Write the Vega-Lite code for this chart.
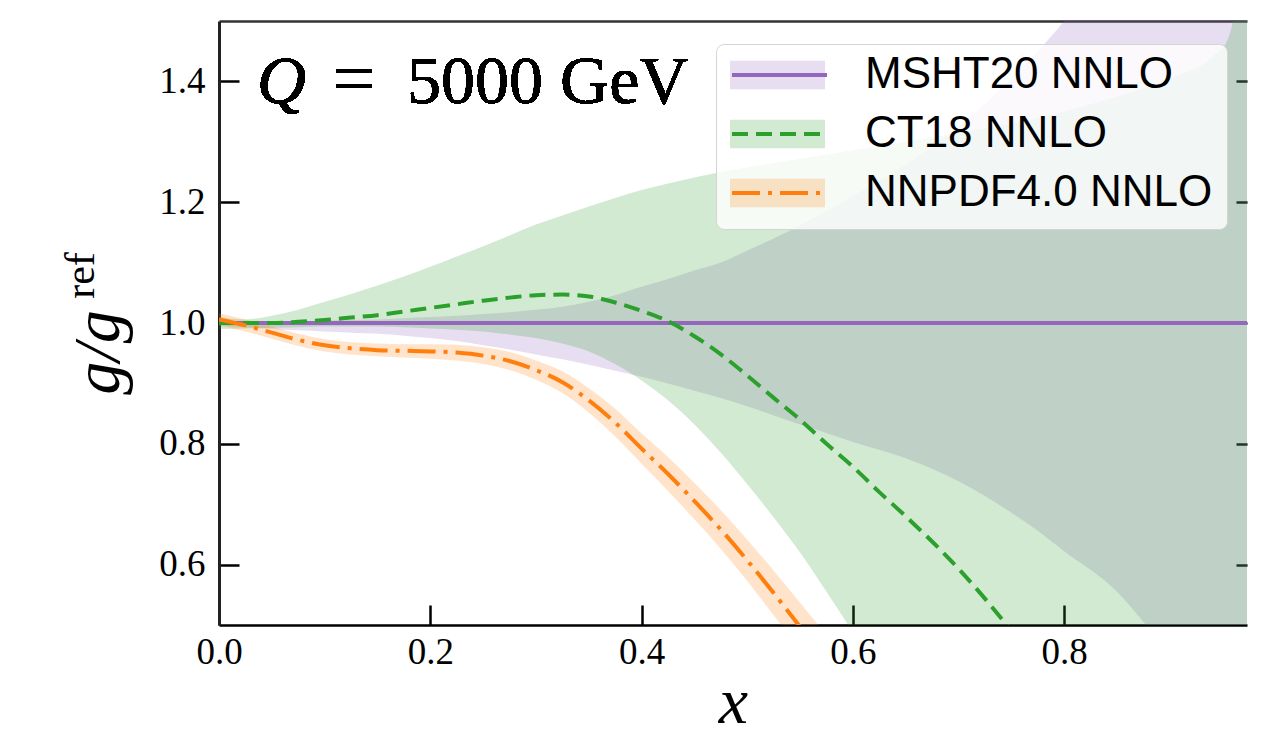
{
  "$schema": "https://vega.github.io/schema/vega-lite/v6.json",
  "width": 1028,
  "height": 604,
  "autosize": "none",
  "padding": {"left": 219, "top": 21, "right": 14, "bottom": 111},
  "background": "white",
  "config": {
    "view": {"stroke": null},
    "axis": {"grid": false, "labelFlush": false, "labelOverlap": false}
  },
  "data": {
    "values": [
      {"pdf": "MSHT20 NNLO", "x": 0.0, "g": 1.0, "lo": 0.996, "hi": 1.004},
      {"pdf": "MSHT20 NNLO", "x": 0.025, "g": 1.0, "lo": 0.993, "hi": 1.003},
      {"pdf": "MSHT20 NNLO", "x": 0.05, "g": 1.0, "lo": 0.99, "hi": 1.003},
      {"pdf": "MSHT20 NNLO", "x": 0.075, "g": 1.0, "lo": 0.988, "hi": 1.003},
      {"pdf": "MSHT20 NNLO", "x": 0.1, "g": 1.0, "lo": 0.986, "hi": 1.004},
      {"pdf": "MSHT20 NNLO", "x": 0.125, "g": 1.0, "lo": 0.984, "hi": 1.005},
      {"pdf": "MSHT20 NNLO", "x": 0.15, "g": 1.0, "lo": 0.982, "hi": 1.006},
      {"pdf": "MSHT20 NNLO", "x": 0.175, "g": 1.0, "lo": 0.979, "hi": 1.008},
      {"pdf": "MSHT20 NNLO", "x": 0.2, "g": 1.0, "lo": 0.975, "hi": 1.01},
      {"pdf": "MSHT20 NNLO", "x": 0.225, "g": 1.0, "lo": 0.97, "hi": 1.012},
      {"pdf": "MSHT20 NNLO", "x": 0.25, "g": 1.0, "lo": 0.963, "hi": 1.015},
      {"pdf": "MSHT20 NNLO", "x": 0.275, "g": 1.0, "lo": 0.956, "hi": 1.018},
      {"pdf": "MSHT20 NNLO", "x": 0.3, "g": 1.0, "lo": 0.948, "hi": 1.022},
      {"pdf": "MSHT20 NNLO", "x": 0.325, "g": 1.0, "lo": 0.94, "hi": 1.027},
      {"pdf": "MSHT20 NNLO", "x": 0.35, "g": 1.0, "lo": 0.931, "hi": 1.035},
      {"pdf": "MSHT20 NNLO", "x": 0.375, "g": 1.0, "lo": 0.921, "hi": 1.046},
      {"pdf": "MSHT20 NNLO", "x": 0.4, "g": 1.0, "lo": 0.911, "hi": 1.06},
      {"pdf": "MSHT20 NNLO", "x": 0.425, "g": 1.0, "lo": 0.9, "hi": 1.073},
      {"pdf": "MSHT20 NNLO", "x": 0.45, "g": 1.0, "lo": 0.888, "hi": 1.087},
      {"pdf": "MSHT20 NNLO", "x": 0.475, "g": 1.0, "lo": 0.876, "hi": 1.1},
      {"pdf": "MSHT20 NNLO", "x": 0.5, "g": 1.0, "lo": 0.862, "hi": 1.12},
      {"pdf": "MSHT20 NNLO", "x": 0.525, "g": 1.0, "lo": 0.847, "hi": 1.14},
      {"pdf": "MSHT20 NNLO", "x": 0.55, "g": 1.0, "lo": 0.832, "hi": 1.162},
      {"pdf": "MSHT20 NNLO", "x": 0.575, "g": 1.0, "lo": 0.818, "hi": 1.185},
      {"pdf": "MSHT20 NNLO", "x": 0.6, "g": 1.0, "lo": 0.803, "hi": 1.21},
      {"pdf": "MSHT20 NNLO", "x": 0.625, "g": 1.0, "lo": 0.79, "hi": 1.235},
      {"pdf": "MSHT20 NNLO", "x": 0.65, "g": 1.0, "lo": 0.776, "hi": 1.262},
      {"pdf": "MSHT20 NNLO", "x": 0.7, "g": 1.0, "lo": 0.738, "hi": 1.325},
      {"pdf": "MSHT20 NNLO", "x": 0.75, "g": 1.0, "lo": 0.686, "hi": 1.405},
      {"pdf": "MSHT20 NNLO", "x": 0.775, "g": 1.0, "lo": 0.656, "hi": 1.45},
      {"pdf": "MSHT20 NNLO", "x": 0.8, "g": 1.0, "lo": 0.622, "hi": 1.5},
      {"pdf": "MSHT20 NNLO", "x": 0.85, "g": 1.0, "lo": 0.555, "hi": 1.62},
      {"pdf": "MSHT20 NNLO", "x": 0.875, "g": 1.0, "lo": 0.505, "hi": 1.68},
      {"pdf": "MSHT20 NNLO", "x": 0.9, "g": 1.0, "lo": 0.45, "hi": 1.75},
      {"pdf": "MSHT20 NNLO", "x": 0.95, "g": 1.0, "lo": 0.34, "hi": 1.9},
      {"pdf": "MSHT20 NNLO", "x": 0.973, "g": 1.0, "lo": 0.29, "hi": 1.97},

      {"pdf": "CT18 NNLO", "x": 0.0, "g": 1.0, "lo": 0.99, "hi": 1.01},
      {"pdf": "CT18 NNLO", "x": 0.025, "g": 1.0, "lo": 0.991, "hi": 1.006},
      {"pdf": "CT18 NNLO", "x": 0.05, "g": 1.0, "lo": 0.992, "hi": 1.012},
      {"pdf": "CT18 NNLO", "x": 0.075, "g": 1.002, "lo": 0.993, "hi": 1.022},
      {"pdf": "CT18 NNLO", "x": 0.1, "g": 1.005, "lo": 0.994, "hi": 1.035},
      {"pdf": "CT18 NNLO", "x": 0.125, "g": 1.009, "lo": 0.994, "hi": 1.048},
      {"pdf": "CT18 NNLO", "x": 0.15, "g": 1.013, "lo": 0.994, "hi": 1.062},
      {"pdf": "CT18 NNLO", "x": 0.175, "g": 1.019, "lo": 0.993, "hi": 1.077},
      {"pdf": "CT18 NNLO", "x": 0.2, "g": 1.025, "lo": 0.991, "hi": 1.093},
      {"pdf": "CT18 NNLO", "x": 0.225, "g": 1.031, "lo": 0.989, "hi": 1.11},
      {"pdf": "CT18 NNLO", "x": 0.25, "g": 1.037, "lo": 0.986, "hi": 1.127},
      {"pdf": "CT18 NNLO", "x": 0.275, "g": 1.042, "lo": 0.981, "hi": 1.145},
      {"pdf": "CT18 NNLO", "x": 0.3, "g": 1.046, "lo": 0.975, "hi": 1.163},
      {"pdf": "CT18 NNLO", "x": 0.325, "g": 1.047, "lo": 0.966, "hi": 1.178},
      {"pdf": "CT18 NNLO", "x": 0.35, "g": 1.044, "lo": 0.953, "hi": 1.193},
      {"pdf": "CT18 NNLO", "x": 0.375, "g": 1.034, "lo": 0.932, "hi": 1.207},
      {"pdf": "CT18 NNLO", "x": 0.4, "g": 1.02, "lo": 0.905, "hi": 1.22},
      {"pdf": "CT18 NNLO", "x": 0.425, "g": 1.003, "lo": 0.872, "hi": 1.231},
      {"pdf": "CT18 NNLO", "x": 0.45, "g": 0.978, "lo": 0.832, "hi": 1.241},
      {"pdf": "CT18 NNLO", "x": 0.475, "g": 0.948, "lo": 0.785, "hi": 1.25},
      {"pdf": "CT18 NNLO", "x": 0.5, "g": 0.913, "lo": 0.733, "hi": 1.258},
      {"pdf": "CT18 NNLO", "x": 0.525, "g": 0.876, "lo": 0.678, "hi": 1.265},
      {"pdf": "CT18 NNLO", "x": 0.55, "g": 0.84, "lo": 0.62, "hi": 1.272},
      {"pdf": "CT18 NNLO", "x": 0.575, "g": 0.8, "lo": 0.555, "hi": 1.279},
      {"pdf": "CT18 NNLO", "x": 0.6, "g": 0.762, "lo": 0.488, "hi": 1.286},
      {"pdf": "CT18 NNLO", "x": 0.625, "g": 0.72, "lo": 0.42, "hi": 1.293},
      {"pdf": "CT18 NNLO", "x": 0.65, "g": 0.68, "lo": 0.35, "hi": 1.3},
      {"pdf": "CT18 NNLO", "x": 0.7, "g": 0.593, "lo": 0.2, "hi": 1.315},
      {"pdf": "CT18 NNLO", "x": 0.75, "g": 0.49, "lo": 0.05, "hi": 1.33},
      {"pdf": "CT18 NNLO", "x": 0.8, "g": 0.37, "lo": -0.1, "hi": 1.35},
      {"pdf": "CT18 NNLO", "x": 0.85, "g": 0.24, "lo": -0.25, "hi": 1.375},
      {"pdf": "CT18 NNLO", "x": 0.9, "g": 0.1, "lo": -0.4, "hi": 1.405},
      {"pdf": "CT18 NNLO", "x": 0.94, "g": 0.0, "lo": -0.5, "hi": 1.44},
      {"pdf": "CT18 NNLO", "x": 0.955, "g": -0.05, "lo": -0.55, "hi": 1.47},
      {"pdf": "CT18 NNLO", "x": 0.963, "g": -0.08, "lo": -0.58, "hi": 1.53},
      {"pdf": "CT18 NNLO", "x": 0.973, "g": -0.12, "lo": -0.62, "hi": 1.65},

      {"pdf": "NNPDF4.0 NNLO", "x": 0.0, "g": 1.006, "lo": 0.996, "hi": 1.016},
      {"pdf": "NNPDF4.0 NNLO", "x": 0.025, "g": 0.996, "lo": 0.986, "hi": 1.006},
      {"pdf": "NNPDF4.0 NNLO", "x": 0.05, "g": 0.984, "lo": 0.974, "hi": 0.994},
      {"pdf": "NNPDF4.0 NNLO", "x": 0.075, "g": 0.972, "lo": 0.962, "hi": 0.982},
      {"pdf": "NNPDF4.0 NNLO", "x": 0.1, "g": 0.963, "lo": 0.953, "hi": 0.973},
      {"pdf": "NNPDF4.0 NNLO", "x": 0.125, "g": 0.958, "lo": 0.948, "hi": 0.968},
      {"pdf": "NNPDF4.0 NNLO", "x": 0.15, "g": 0.955, "lo": 0.945, "hi": 0.966},
      {"pdf": "NNPDF4.0 NNLO", "x": 0.175, "g": 0.954, "lo": 0.943, "hi": 0.965},
      {"pdf": "NNPDF4.0 NNLO", "x": 0.2, "g": 0.953, "lo": 0.941, "hi": 0.965},
      {"pdf": "NNPDF4.0 NNLO", "x": 0.225, "g": 0.951, "lo": 0.938, "hi": 0.964},
      {"pdf": "NNPDF4.0 NNLO", "x": 0.25, "g": 0.946, "lo": 0.932, "hi": 0.96},
      {"pdf": "NNPDF4.0 NNLO", "x": 0.275, "g": 0.937, "lo": 0.922, "hi": 0.952},
      {"pdf": "NNPDF4.0 NNLO", "x": 0.3, "g": 0.922, "lo": 0.906, "hi": 0.938},
      {"pdf": "NNPDF4.0 NNLO", "x": 0.325, "g": 0.902, "lo": 0.884, "hi": 0.92},
      {"pdf": "NNPDF4.0 NNLO", "x": 0.35, "g": 0.872, "lo": 0.852, "hi": 0.892},
      {"pdf": "NNPDF4.0 NNLO", "x": 0.375, "g": 0.835, "lo": 0.812, "hi": 0.858},
      {"pdf": "NNPDF4.0 NNLO", "x": 0.4, "g": 0.792, "lo": 0.767, "hi": 0.817},
      {"pdf": "NNPDF4.0 NNLO", "x": 0.425, "g": 0.75, "lo": 0.722, "hi": 0.778},
      {"pdf": "NNPDF4.0 NNLO", "x": 0.45, "g": 0.705, "lo": 0.675, "hi": 0.735},
      {"pdf": "NNPDF4.0 NNLO", "x": 0.475, "g": 0.658, "lo": 0.626, "hi": 0.69},
      {"pdf": "NNPDF4.0 NNLO", "x": 0.5, "g": 0.607, "lo": 0.573, "hi": 0.641},
      {"pdf": "NNPDF4.0 NNLO", "x": 0.525, "g": 0.553, "lo": 0.516, "hi": 0.59},
      {"pdf": "NNPDF4.0 NNLO", "x": 0.55, "g": 0.497, "lo": 0.457, "hi": 0.537},
      {"pdf": "NNPDF4.0 NNLO", "x": 0.575, "g": 0.44, "lo": 0.397, "hi": 0.483},
      {"pdf": "NNPDF4.0 NNLO", "x": 0.6, "g": 0.38, "lo": 0.335, "hi": 0.425}
    ]
  },
  "layer": [
    {
      "mark": {"type": "area", "clip": true, "interpolate": "monotone"},
      "encoding": {
        "x": {
          "field": "x", "type": "quantitative",
          "scale": {"domain": [0, 0.973], "nice": false, "zero": false},
          "axis": {
            "orient": "bottom", "values": [0, 0.2, 0.4, 0.6, 0.8], "format": ".1f",
            "title": "x", "titleFont": "Liberation Serif", "titleFontStyle": "italic",
            "titleFontWeight": "normal", "titleFontSize": 66, "titleColor": "black",
            "titleX": 514, "titleY": 97, "titleBaseline": "alphabetic", "titleAlign": "center",
            "labelFont": "Liberation Serif", "labelFontSize": 37, "labelColor": "black",
            "labelPadding": 29, "tickSize": -20, "tickWidth": 2.5, "tickColor": "black",
            "domainColor": "black", "domainWidth": 2.5
          }
        },
        "y": {
          "field": "lo", "type": "quantitative",
          "scale": {"domain": [0.5, 1.5], "nice": false, "zero": false},
          "axis": {
            "orient": "left", "values": [0.6, 0.8, 1.0, 1.2, 1.4], "format": ".1f",
            "title": "g/g", "titleFont": "Liberation Serif", "titleFontStyle": "italic",
            "titleFontWeight": "normal", "titleFontSize": 66, "titleColor": "black",
            "titleAngle": 270, "titleX": -101, "titleY": 331, "titleBaseline": "alphabetic",
            "titleAlign": "center",
            "labelFont": "Liberation Serif", "labelFontSize": 37, "labelColor": "black",
            "labelPadding": 34, "tickSize": -20, "tickWidth": 2.5, "tickColor": "black",
            "domainColor": "#222222", "domainWidth": 3
          }
        },
        "y2": {"field": "hi"},
        "fill": {
          "field": "pdf", "type": "nominal",
          "scale": {
            "domain": ["MSHT20 NNLO", "CT18 NNLO", "NNPDF4.0 NNLO"],
            "range": ["#9467bd", "#2ca02c", "#ff7f0e"]
          },
          "legend": {
            "orient": "none", "legendX": 497, "legendY": 23, "title": null,
            "symbolType": "M-1,-0.3H1V0.3H-1Z", "symbolSize": 9025, "symbolStrokeWidth": 0,
            "labelFont": "Liberation Sans", "labelFontSize": 44, "labelColor": "black",
            "labelLimit": 800, "labelOffset": 40, "clipHeight": 34, "rowPadding": 15, "padding": 14,
            "fillColor": "rgba(255,255,255,0.8)", "strokeColor": "#d4d4d4", "cornerRadius": 8,
            "encode": {
              "symbols": {
                "update": {
                  "opacity": {"value": 1},
                  "fillOpacity": {"scale": "fillOpacity", "field": "value"}
                }
              }
            }
          }
        },
        "fillOpacity": {
          "field": "pdf", "type": "nominal",
          "scale": {
            "domain": ["MSHT20 NNLO", "CT18 NNLO", "NNPDF4.0 NNLO"],
            "range": [0.22, 0.22, 0.3]
          },
          "legend": null
        }
      }
    },
    {
      "mark": {"type": "line", "clip": true, "interpolate": "monotone", "strokeWidth": 4},
      "encoding": {
        "x": {
          "field": "x", "type": "quantitative",
          "scale": {"domain": [0, 0.973], "nice": false, "zero": false},
          "axis": {
            "orient": "top", "domain": true, "domainColor": "#333333", "domainWidth": 2.5,
            "ticks": false, "labels": false,
            "title": "ref", "titleFont": "Liberation Serif", "titleFontStyle": "normal",
            "titleFontWeight": "normal", "titleFontSize": 42, "titleColor": "black",
            "titleAngle": 270, "titleX": -126, "titleY": 254, "titleBaseline": "alphabetic",
            "titleAlign": "center"
          }
        },
        "y": {
          "field": "g", "type": "quantitative",
          "axis": {
            "orient": "right", "domain": false, "labels": false, "title": null,
            "values": [0.6, 0.8, 1.0, 1.2, 1.4],
            "tickSize": -11, "tickWidth": 2.5, "tickColor": "black"
          }
        },
        "stroke": {
          "field": "pdf", "type": "nominal",
          "scale": {"range": ["#2ca02c", "#9467bd", "#ff7f0e"]},
          "legend": {
            "orient": "none", "legendX": 497, "legendY": 23, "title": null,
            "values": ["MSHT20 NNLO", "CT18 NNLO", "NNPDF4.0 NNLO"],
            "symbolType": "stroke", "symbolSize": 9025, "symbolStrokeWidth": 4,
            "labelExpr": "''", "labelFontSize": 44, "labelOffset": 40,
            "clipHeight": 34, "rowPadding": 15, "padding": 14,
            "encode": {"symbols": {"update": {"fill": {"value": "transparent"}, "opacity": {"value": 1}}}}
          }
        },
        "strokeDash": {
          "field": "pdf", "type": "nominal",
          "scale": {"range": [[16, 8], [1, 0], [28, 8, 4, 8]]}
        }
      }
    },
    {
      "mark": {"type": "text", "text": "Q", "font": "Liberation Serif", "fontStyle": "italic",
               "fontSize": 68, "align": "left", "baseline": "alphabetic", "color": "black"},
      "encoding": {
        "x": {"datum": 0.036, "type": "quantitative", "axis": null},
        "y": {"datum": 1.364, "type": "quantitative", "axis": null}
      }
    },
    {
      "mark": {"type": "text", "text": "=", "font": "Liberation Serif",
               "fontSize": 74, "align": "left", "baseline": "alphabetic", "color": "black"},
      "encoding": {
        "x": {"datum": 0.108, "type": "quantitative", "axis": null},
        "y": {"datum": 1.364, "type": "quantitative", "axis": null}
      }
    },
    {
      "mark": {"type": "text", "text": "5000 GeV", "font": "Liberation Serif",
               "fontSize": 68, "align": "left", "baseline": "alphabetic", "color": "black"},
      "encoding": {
        "x": {"datum": 0.178, "type": "quantitative", "axis": null},
        "y": {"datum": 1.364, "type": "quantitative", "axis": null}
      }
    }
  ],
  "resolve": {"axis": {"x": "independent", "y": "independent"}}
}
